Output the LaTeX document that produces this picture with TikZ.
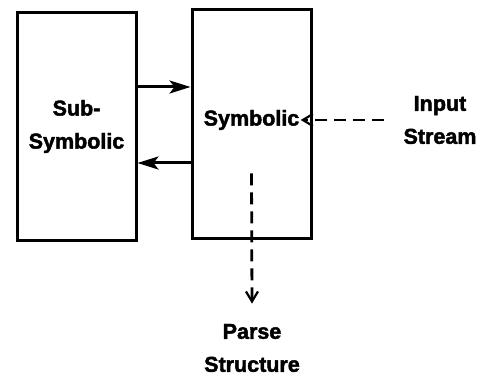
\documentclass[tikz,border=0pt]{standalone}
\usepackage{fontspec}
\setmainfont{Liberation Sans}[BoldFeatures={FakeBold=2}]
\usepackage{tikz}
\usetikzlibrary{arrows.meta}
\tikzset{every picture/.style={line width=2.8pt}}

\begin{document}
\begin{tikzpicture}[x=1pt,y=1pt,
  every node/.style={font=\bfseries\fontsize{21.5}{33}\selectfont},
  block/.style={draw=black,line width=3pt,minimum width=119pt,
                minimum height=228pt,inner sep=0pt,align=center},
  lbl/.style={inner sep=0pt,align=center},
  link/.style={line width=3pt,-{Stealth[length=21pt,width=13pt,inset=5pt]}},
  feed/.style={line width=2.8pt,dash pattern=on 12pt off 7pt,
               -{Straight Barb[length=10pt,width=12pt,line width=2.2pt]}}]
  \useasboundingbox (0,0) rectangle (481,375);

  % The two modules.
  \node[block] (sub) at (76.5,248.5) {Sub-\\Symbolic};
  \node[block] (sym) at (251.5,251) {};
  \node[lbl] (symlbl) at (251.5,255) {Symbolic};

  % Both directions between the modules.
  \draw[link] ([yshift=37pt]sym.west -| sub.east) -- ([yshift=37pt]sym.west);
  \draw[link] ([yshift=-39pt]sym.west) -- ([yshift=-39pt]sym.west -| sub.east);

  % What comes in and what goes out.
  \node[lbl] (input) at (440,255) {Input\\Stream};
  \node[lbl] (parse) at (252,27) {Parse\\Structure};
  \draw[feed] ([xshift=-18pt]input.west) -- (symlbl.east);
  \draw[feed] ([yshift=-42pt]symlbl.south) -- ([yshift=19pt]parse.north);
\end{tikzpicture}
\end{document}
